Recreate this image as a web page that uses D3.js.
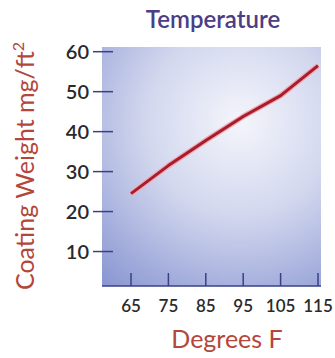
<!DOCTYPE html>
<html lang="en">
<head>
<meta charset="UTF-8">
<title>Temperature</title>
<script src="https://cdn.jsdelivr.net/npm/d3@7"></script>
<style>
  body { margin: 0; background: #fff; }
  text { font-family: "Lato", "Open Sans", sans-serif; }
</style>
</head>
<body>
<div id="chart"></div>
<script>
// data
var degrees = [65, 75, 85, 95, 105, 115];
var coatingWeight = [24.5, 31.5, 37.8, 43.8, 49, 56.5];
var yTicks = [10, 20, 30, 40, 50, 60];

var width = 335, height = 358;
var plot = {left: 102, top: 47, right: 321, bottom: 286};

var svg = d3.select("#chart").append("svg")
    .attr("width", width)
    .attr("height", height);

var xScale = d3.scaleLinear()
    .domain([65, 115])
    .range([131, 318]);

var yScale = d3.scaleLinear()
    .domain([0, 60])
    .range([291.5, 51.7]);

// background gradient
var defs = svg.append("defs");
var grad = defs.append("radialGradient")
    .attr("id", "bg")
    .attr("gradientUnits", "userSpaceOnUse")
    .attr("cx", 240).attr("cy", 122).attr("r", 210);
grad.append("stop").attr("offset", "0%").attr("stop-color", "#f4f5fb");
grad.append("stop").attr("offset", "45%").attr("stop-color", "#d2d7ee");
grad.append("stop").attr("offset", "100%").attr("stop-color", "#8a97d2");

svg.append("rect")
    .attr("x", plot.left)
    .attr("y", plot.top)
    .attr("width", plot.right - plot.left)
    .attr("height", plot.bottom - plot.top)
    .attr("fill", "url(#bg)");

// x axis
var xAxis = svg.append("g")
    .attr("transform", "translate(0," + plot.bottom + ")");
xAxis.append("line")
    .attr("x1", plot.left).attr("x2", plot.right)
    .attr("y1", 0).attr("y2", 0)
    .attr("stroke", "#3a3f88").attr("stroke-width", 1.5);
xAxis.selectAll("line.tick")
    .data(degrees)
    .enter().append("line")
    .attr("class", "tick")
    .attr("x1", function(d){ return xScale(d); })
    .attr("x2", function(d){ return xScale(d); })
    .attr("y1", -13).attr("y2", 0)
    .attr("stroke", "#3a3f88").attr("stroke-width", 1.5);
xAxis.selectAll("text")
    .data(degrees)
    .enter().append("text")
    .attr("x", function(d){ return xScale(d); })
    .attr("y", 26)
    .attr("text-anchor", "middle")
    .attr("font-size", 17)
    .attr("font-weight", 600)
    .attr("fill", "#2a2a2a")
    .text(function(d){ return d; });

// y axis
var yAxis = svg.append("g");
yAxis.selectAll("line")
    .data(yTicks)
    .enter().append("line")
    .attr("x1", 93).attr("x2", 113)
    .attr("y1", function(d){ return yScale(d); })
    .attr("y2", function(d){ return yScale(d); })
    .attr("stroke", "#3a3f88").attr("stroke-width", 1.5);
yAxis.selectAll("text")
    .data(yTicks)
    .enter().append("text")
    .attr("x", 89)
    .attr("y", function(d){ return yScale(d) + 7; })
    .attr("text-anchor", "end")
    .attr("font-size", 20)
    .attr("font-weight", 600)
    .attr("fill", "#2a2a2a")
    .text(function(d){ return d; });

// line
var line = d3.line()
    .x(function(d, i){ return xScale(degrees[i]); })
    .y(function(d){ return yScale(d); });

svg.append("path")
    .datum(coatingWeight)
    .attr("d", line)
    .attr("fill", "none")
    .attr("stroke", "#eeaab4")
    .attr("stroke-width", 5.5)
    .attr("stroke-linejoin", "round");
svg.append("path")
    .datum(coatingWeight)
    .attr("d", line)
    .attr("fill", "none")
    .attr("stroke", "#a81c2c")
    .attr("stroke-width", 3)
    .attr("stroke-linejoin", "round");

// titles
svg.append("text")
    .attr("x", 213)
    .attr("y", 28)
    .attr("text-anchor", "middle")
    .attr("font-size", 24)
    .attr("font-weight", 600)
    .attr("fill", "#4b3d86")
    .text("Temperature");

svg.append("text")
    .attr("x", 227)
    .attr("y", 348)
    .attr("text-anchor", "middle")
    .attr("font-size", 25)
    .attr("fill", "#b4463a")
    .text("Degrees F");

var yLabel = svg.append("text")
    .attr("transform", "translate(34,166) rotate(-90)")
    .attr("text-anchor", "middle")
    .attr("font-size", 25)
    .attr("fill", "#b4463a")
    .text("Coating Weight mg/ft");
yLabel.append("tspan")
    .attr("dy", -10)
    .attr("font-size", 16)
    .text("2");
</script>
</body>
</html>
